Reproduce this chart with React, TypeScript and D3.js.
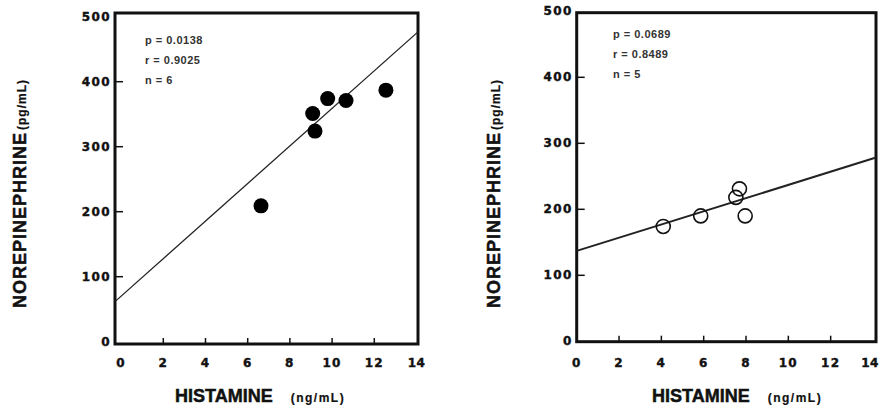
import * as d3 from 'd3'
import React from 'react'

// values
const leftHistamine = [6.63, 9.08, 9.19, 9.79, 10.66, 12.55]
const leftNorepinephrine = [209, 351, 324, 374, 371, 387]
const rightHistamine = [4.09, 5.86, 7.52, 7.69, 7.96]
const rightNorepinephrine = [174, 190, 218, 231, 190]

// regression lines: [intercept, slope]
const leftFit = [70, 28.9]
const rightFit = [137, 10]

const leftStats = ['p = 0.0138', 'r = 0.9025', 'n = 6']
const rightStats = ['p = 0.0689', 'r = 0.8489', 'n = 5']

const xTicks = [0, 2, 4, 6, 8, 10, 12, 14]
const yTicks = [0, 100, 200, 300, 400, 500]

const xTitle = 'HISTAMINE'
const xUnit = '(ng/mL)'
const yTitle = 'NOREPINEPHRINE'
const yUnit = '(pg/mL)'

const W = 881
const TITLE_FONT = '"Liberation Sans", Arial, sans-serif'
const TICK_FONT = '"DejaVu Sans", sans-serif'

interface PanelProps {
  xs: number[]
  ys: number[]
  fit: number[]
  stats: string[]
  filled: boolean
  xRange: [number, number]
  yRange: [number, number]
  frame: { left: number, right: number, top: number, bottom: number }
  statsX: number
  statsY: number
  yTitleX: number
  xTitleX: number
  lineWidth: number
}

const Panel = (p: PanelProps) => {
  const
    x = d3.scaleLinear().domain([0, 14]).range(p.xRange),
    y = d3.scaleLinear().domain([0, 500]).range(p.yRange),
    f = p.frame,
    x0 = x.invert(f.left),
    x1 = x.invert(f.right),
    line = d3.line<number>().x(d => x(d)).y(d => y(p.fit[0] + p.fit[1] * d))

  return (
    <g>
      <rect x={f.left} y={f.top} width={f.right - f.left} height={f.bottom - f.top}
        fill='none' stroke='#111' strokeWidth={3} />
      {yTicks.map(t => (
        <g key={'y' + t}>
          {t > 0 && t < 500 && <line x1={f.left} x2={f.left + 8} y1={y(t)} y2={y(t)} stroke='#111' strokeWidth={1.5} />}
          <text x={f.left - 4} y={y(t)} textAnchor='end' dominantBaseline='central'
            fontFamily={TICK_FONT} fontWeight='bold' fontSize={12} letterSpacing={1.4}
            fill='#111' stroke='#111' strokeWidth={0.4}>{t}</text>
        </g>
      ))}
      {xTicks.map(t => (
        <g key={'x' + t}>
          {t > 0 && t < 14 && <line x1={x(t)} x2={x(t)} y1={f.bottom} y2={f.bottom - 6} stroke='#111' strokeWidth={1.5} />}
          <text x={Math.min(x(t), W - 11)} y={366.5} textAnchor='middle'
            fontFamily={TICK_FONT} fontWeight='bold' fontSize={12} letterSpacing={t === 14 ? 0.5 : 1.2}
            fill='#111' stroke='#111' strokeWidth={0.4}>{t}</text>
        </g>
      ))}
      <path d={line([x0, x1]) as string} fill='none' stroke='#222' strokeWidth={p.lineWidth} />
      {p.xs.map((v, i) => (
        <circle key={i} cx={x(v)} cy={y(p.ys[i])} r={p.filled ? 7.5 : 7}
          fill={p.filled ? '#000' : 'none'} stroke='#111' strokeWidth={p.filled ? 0 : 1.6} />
      ))}
      {p.stats.map((s, i) => (
        <text key={s} x={p.statsX} y={p.statsY + i * 20} dominantBaseline='central'
          fontFamily={TITLE_FONT} fontWeight='bold' fontSize={11} letterSpacing={0.5} fill='#333'>{s}</text>
      ))}
      <text x={p.xTitleX} y={402} fontFamily={TITLE_FONT} fontWeight='bold' fill='#111' stroke='#111' strokeWidth={0.5}>
        <tspan fontSize={18}>{xTitle}</tspan>
        <tspan fontSize={12} dx={18} letterSpacing={1.5} strokeWidth={0.2}>{xUnit}</tspan>
      </text>
      <text transform={`translate(${p.yTitleX},308) rotate(-90)`} fontFamily={TITLE_FONT} fontWeight='bold'
        fill='#111' stroke='#111' strokeWidth={0.5}>
        <tspan fontSize={18} letterSpacing={1}>{yTitle}</tspan>
        <tspan fontSize={12} dx={2} letterSpacing={1} strokeWidth={0.2}>{yUnit}</tspan>
      </text>
    </g>
  )
}

export default function App() {
  return (
    <svg width={W} height={411} style={{ position: 'absolute', left: 0, top: 0, background: '#fff' }}>
      <Panel xs={leftHistamine} ys={leftNorepinephrine} fit={leftFit} stats={leftStats} filled
        xRange={[121.1, 416.5]} yRange={[341.7, 16.7]}
        frame={{ left: 115, right: 418, top: 13, bottom: 344 }}
        statsX={145} statsY={40} yTitleX={26} xTitleX={175} lineWidth={1.3} />
      <Panel xs={rightHistamine} ys={rightNorepinephrine} fit={rightFit} stats={rightStats} filled={false}
        xRange={[576.7, 873]} yRange={[341.3, 11.3]}
        frame={{ left: 576.7, right: 876, top: 12.7, bottom: 341.7 }}
        statsX={613} statsY={33.5} yTitleX={500} xTitleX={652} lineWidth={2} />
    </svg>
  )
}
